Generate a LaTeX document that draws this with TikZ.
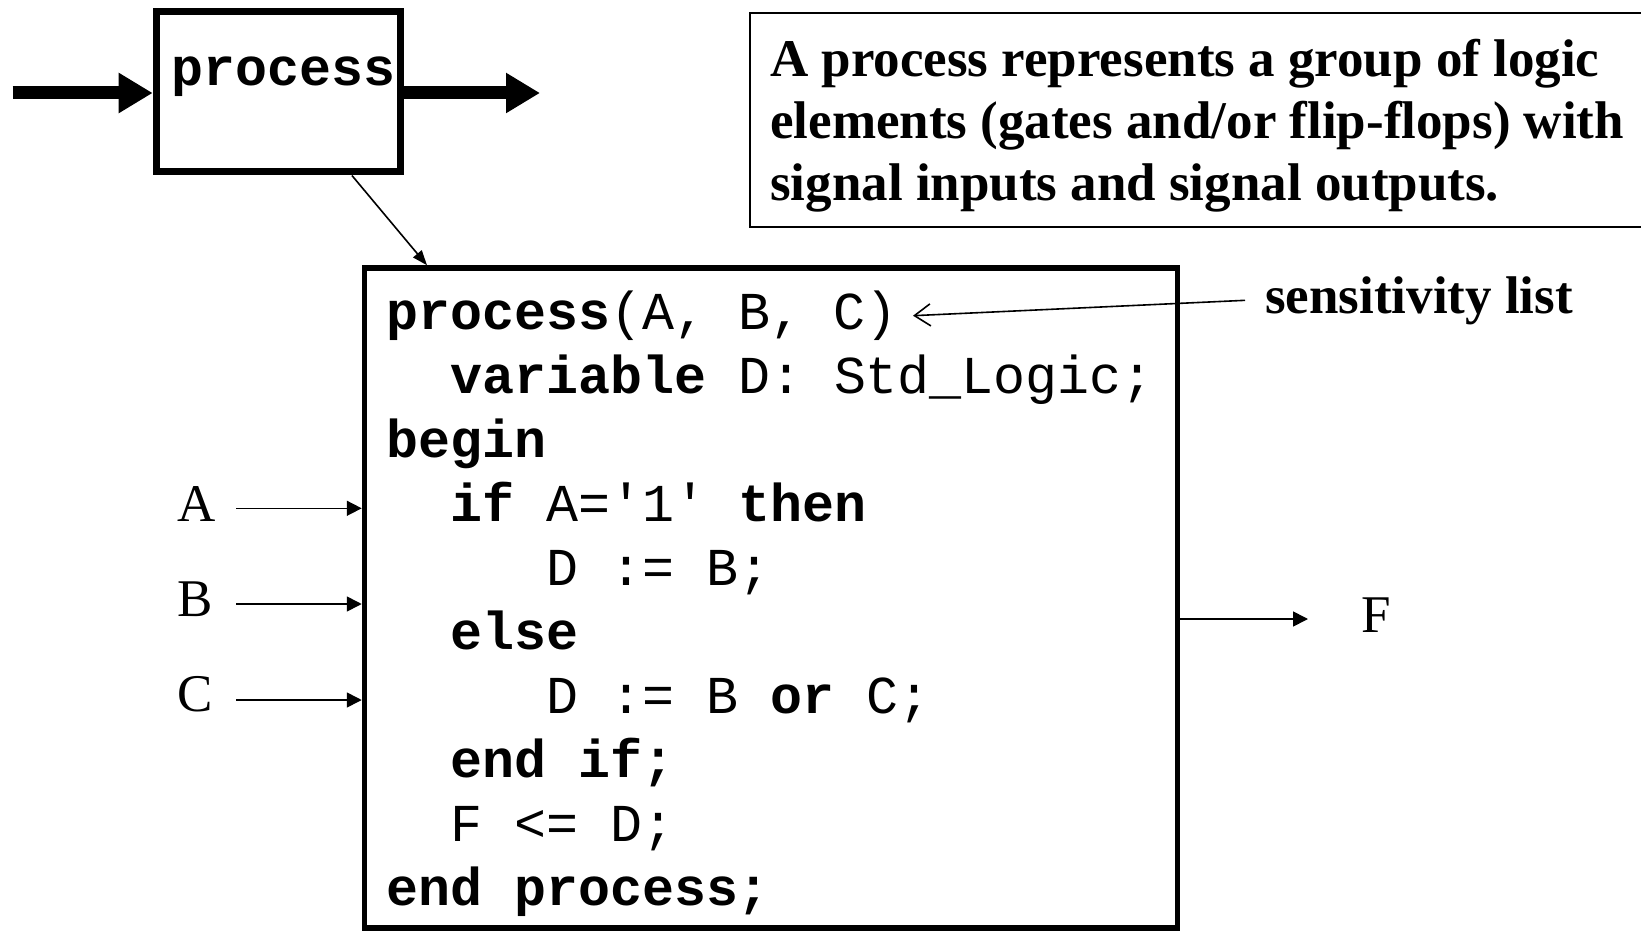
\documentclass[tikz,border=0pt]{standalone}
\usepackage{fontspec}
\setmainfont{Liberation Serif}
\setmonofont{Liberation Mono}
\usetikzlibrary{arrows.meta}
\begin{document}
\begin{tikzpicture}[x=1pt,y=-1pt,
  codefont/.style={font=\fontsize{53.3}{64}\selectfont\ttfamily},
  serif/.style={font=\fontsize{53}{63}\selectfont},
  txt/.style={inner sep=0pt, anchor=base west},
  bigarrow/.style={line width=13pt, -{Triangle[length=34pt,width=38pt]}},
  thinarrow/.style={line width=1.6pt, -{Triangle[length=15pt,width=15pt]}},
  barbarrow/.style={line width=1.6pt, -{Straight Barb[length=16pt,width=22pt]}},
  box/.style={draw, inner sep=0pt}]
\useasboundingbox (0,0) rectangle (1641,933);
\clip (0,0) rectangle (1641,933);

% small process symbol with its input and output
\node[box, line width=7pt, minimum width=244.3pt, minimum height=160pt] (pbox) at (278.35,92) {};
\node[txt, codefont] (ptext) at (171,86) {\textbf{process}};
\coordinate (pin) at (12.5,93);
\coordinate (pout) at (540,93);
\draw[bigarrow] (pin) -- (pin -| pbox.west);
\draw[bigarrow] (pbox.east |- pout) -- (pout);

% explanation box (runs off the right edge)
\node[box, line width=2pt, minimum width=960pt, minimum height=214pt, anchor=north west] (desc) at (749,12) {};
\node[txt, serif] (d1) at (770,77) {\textbf{A process represents a group of logic}};
\node[txt, serif] (d2) at (770,139) {\textbf{elements (gates and/or flip-flops) with}};
\node[txt, serif] (d3) at (770,201) {\textbf{signal inputs and signal outputs.}};

% VHDL code block
\node[box, line width=5.5pt, minimum width=813pt, minimum height=660pt] (code) at (771,598) {};
\node[txt, codefont] (l1)  at (386,329.5)   {\textbf{process}(A, B, C)};
\node[txt, codefont] (l2)  at (450,393.5)   {\textbf{variable} D: Std\_Logic;};
\node[txt, codefont] (l3)  at (386,457.5)   {\textbf{begin}};
\node[txt, codefont] (l4)  at (450,521.5)   {\textbf{if} A='1' \textbf{then}};
\node[txt, codefont] (l5)  at (546,585.5)   {D := B;};
\node[txt, codefont] (l6)  at (450,649.5)   {\textbf{else}};
\node[txt, codefont] (l7)  at (546,713.5)   {D := B \textbf{or} C;};
\node[txt, codefont] (l8)  at (450,777.5)   {\textbf{end if;}};
\node[txt, codefont] (l9)  at (450,841.5)   {F <= D;};
\node[txt, codefont] (l10) at (386,905.5)   {\textbf{end process;}};

% symbol to code
\draw[line width=1.6pt, -{Triangle[length=15pt,width=11pt]}]
  ([xshift=73.6pt]pbox.south) -- ([xshift=-344pt]code.north);

% sensitivity list annotation
\node[txt, serif] (sens) at (1265,313) {\textbf{sensitivity list}};
\coordinate (senstip) at (913,315.7);
\draw[barbarrow] ([xshift=-20pt]sens.west) -- (senstip);

% signal inputs
\node[txt, serif] (la) at (177,521.5) {A};
\node[txt, serif] (lb) at (177,616.7) {B};
\node[txt, serif] (lc) at (177,711.7) {C};
\coordinate (ina) at (236,508.3);
\coordinate (inb) at (236,604);
\coordinate (inc) at (236,700);
\draw[thinarrow] (ina) -- (ina -| code.west);
\draw[thinarrow] (inb) -- (inb -| code.west);
\draw[thinarrow] (inc) -- (inc -| code.west);

% signal output
\node[txt, serif] (lf) at (1361,632.7) {F};
\coordinate (outf) at (1308,619);
\draw[thinarrow] (code.east |- outf) -- (outf);
\end{tikzpicture}
\end{document}
